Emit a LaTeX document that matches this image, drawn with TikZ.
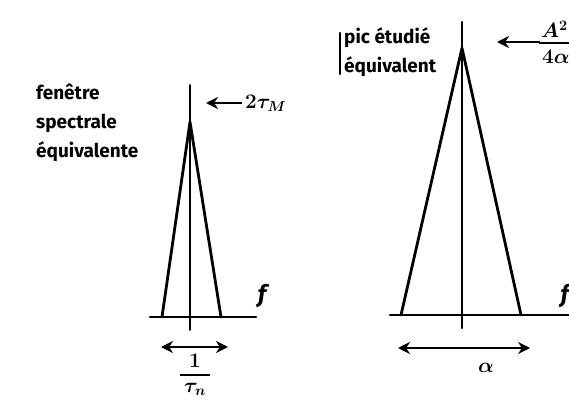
\documentclass[tikz,border=0pt]{standalone}
\usepackage{fontspec}
\setmainfont{Fira Sans}
\usetikzlibrary{arrows.meta}
\begin{document}
\begin{tikzpicture}[x=1pt,y=-1pt,
  thickline/.style={line width=2.8pt, line cap=round, line join=round},
  thinline/.style={line width=1.8pt, line cap=round},
  arrowline/.style={line width=2.6pt, -{Stealth[length=12pt,width=12pt]}},
  dblarrow/.style={line width=2.6pt, {Stealth[length=12pt,width=12pt]}-{Stealth[length=12pt,width=12pt]}},
  hand/.style={font=\fontsize{19}{29}\selectfont\bfseries, inner sep=0pt},
  mathlbl/.style={font=\fontsize{21}{24}\selectfont\boldmath, inner sep=0pt}]
\useasboundingbox (0,0) rectangle (569,406);
\clip (0,0) rectangle (569,406);
% ---------- left diagram ----------
\coordinate (LvT) at (190,85);
\coordinate (LvB) at (190,330);
\coordinate (LaxL) at (150,317);
\coordinate (LaxR) at (256,317);
\coordinate (Lapex) at (190,122);
\coordinate (Lb1) at (162,317);
\coordinate (Lb2) at (221,317);
\draw[thinline] (LvT) -- (LvB);
\draw[thickline] (LaxL) -- (LaxR);
\draw[thickline] (Lb1) -- (Lapex) -- (Lb2);
\node[hand, anchor=north west, align=left] (fen) at (36,84) {fenêtre\\spectrale\\équivalente};
\coordinate (LarT) at (242,103);
\coordinate (LarH) at (206,103);
\draw[arrowline] (LarT) -- (LarH);
\node[mathlbl, anchor=west] (tauM) at (245,103) {$2\tau_M$};
\node[hand, font=\fontsize{24}{24}\selectfont\itshape\bfseries] (Lf) at (262,296) {f};
\coordinate (LdL) at (161,347);
\coordinate (LdR) at (228,347);
\draw[dblarrow] (LdL) -- (LdR);
\node[mathlbl] (one) at (195,361) {$1$};
\coordinate (LfrL) at (180,375);
\coordinate (LfrR) at (210,375);
\draw[line width=2.4pt] (LfrL) -- (LfrR);
\node[mathlbl] (taun) at (195,389) {$\tau_n$};
% ---------- right diagram ----------
\coordinate (RvT) at (462,22);
\coordinate (RvB) at (462,328);
\coordinate (RaxL) at (390,315);
\coordinate (RaxR) at (575,315);
\coordinate (Rapex) at (462,48);
\coordinate (Rb1) at (401,315);
\coordinate (Rb2) at (521,315);
\draw[thinline, line width=2.2pt] (RvT) -- (RvB);
\draw[thickline] (RaxL) -- (RaxR);
\draw[thickline] (Rb1) -- (Rapex) -- (Rb2);
\node[hand, anchor=north west, align=left] (pic) at (344,27) {pic étudié\\équivalent};
\coordinate (RbrT) at (340,33);
\coordinate (RbrB) at (340,74);
\draw[thickline, line width=2.4pt] (RbrT) -- (RbrB);
\coordinate (RarT) at (540,42);
\coordinate (RarH) at (497,42);
\draw[arrowline] (RarT) -- (RarH);
\node[mathlbl, anchor=south west] (A2) at (541,38) {$A^2$};
\coordinate (RfrL) at (539,43);
\coordinate (RfrR) at (575,43);
\draw[line width=2.4pt] (RfrL) -- (RfrR);
\node[mathlbl, anchor=north west] (fa) at (542,50) {$4\alpha$};
\node[hand, font=\fontsize{24}{24}\selectfont\itshape\bfseries, anchor=east] (Rf) at (569,296) {f};
\coordinate (RdL) at (398,348);
\coordinate (RdR) at (530,348);
\draw[dblarrow] (RdL) -- (RdR);
\node[mathlbl] (alpha) at (486,368) {$\alpha$};
\end{tikzpicture}
\end{document}
